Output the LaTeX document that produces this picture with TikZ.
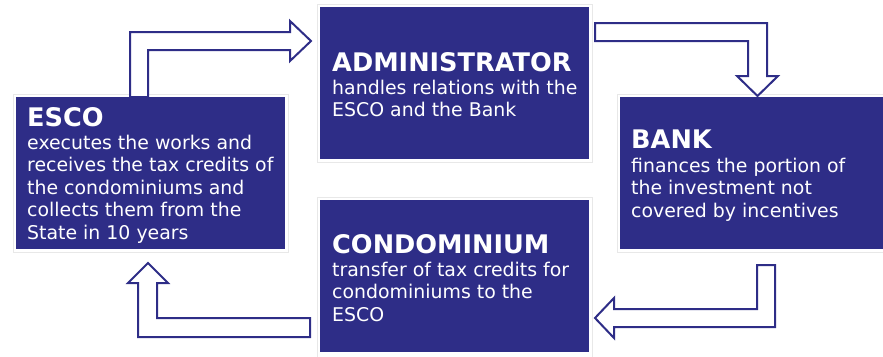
\documentclass[tikz,border=0pt]{standalone}
\usepackage{fontspec}
\setmainfont{DejaVu Sans}
\definecolor{boxblue}{RGB}{46,45,135}
\tikzset{
  x=1pt, y=-1pt,
  shadowbox/.style={fill=black, fill opacity=0.15, draw=none},
  borderbox/.style={fill=white, draw=black!9, line width=0.6pt},
  bluebox/.style={fill=boxblue, draw=none},
  titletext/.style={anchor=base west, inner sep=0pt, text=white, font=\fontsize{25.6}{28}\selectfont\bfseries},
  bodytext/.style={anchor=base west, inner sep=0pt, text=white, align=left, font=\fontsize{18.9}{22.6}\selectfont},
  flowarrow/.style={fill=white, draw=boxblue, line width=2pt, line join=miter}
}
\newcommand{\bodylines}[1]{\begin{tabular}[t]{@{}l@{}}#1\end{tabular}}
\begin{document}
\begin{tikzpicture}
\useasboundingbox (0,0) rectangle (883,356);
\clip (0,0) rectangle (883,356);
% shadows
\fill[shadowbox] (15,100) rectangle (289,253);
\fill[shadowbox] (319,10) rectangle (593,163);
\fill[shadowbox] (619,100) rectangle (890,253);
\fill[shadowbox] (319,203) rectangle (593,358);
% white borders
\draw[borderbox] (13,94) rectangle (288,252);
\draw[borderbox] (317,4) rectangle (592,162);
\draw[borderbox] (617,94) rectangle (890,252);
\draw[borderbox] (317,197) rectangle (592,358);
% boxes
\node[bluebox, anchor=north west, minimum width=269pt, minimum height=152pt, inner sep=0pt] (esco) at (16,97) {};
\node[bluebox, anchor=north west, minimum width=269pt, minimum height=152pt, inner sep=0pt] (admin) at (320,7) {};
\node[bluebox, anchor=north west, minimum width=270pt, minimum height=152pt, inner sep=0pt] (bank) at (620,97) {};
\node[bluebox, anchor=north west, minimum width=269pt, minimum height=152pt, inner sep=0pt] (condo) at (320,200) {};
% texts
\node[titletext] (escot) at (27,126) {ESCO};
\node[bodytext] (escob) at (27,149) {\bodylines{executes the works and\\receives the tax credits of\\the condominiums and\\collects them from the\\State in 10 years}};
\node[titletext] (admint) at (332,71) {ADMINISTRATOR};
\node[bodytext] (adminb) at (332,94) {\bodylines{handles relations with the\\ESCO and the Bank}};
\node[titletext] (bankt) at (631,148) {BANK};
\node[bodytext] (bankb) at (631,172) {\bodylines{finances the portion of\\the investment not\\covered by incentives}};
\node[titletext] (condot) at (332,253) {CONDOMINIUM};
\node[bodytext] (condob) at (332,276) {\bodylines{transfer of tax credits for\\condominiums to the\\ESCO}};
% arrows
\draw[flowarrow] (130,97) -- (130,32) -- (290,32) -- (290,21) -- (311,41) -- (290,61) -- (290,50) -- (148,50) -- (148,97) -- cycle;
\draw[flowarrow] (595,23) -- (767,23) -- (767,76) -- (778,76) -- (757.5,96) -- (737,76) -- (748,76) -- (748,41) -- (595,41) -- cycle;
\draw[flowarrow] (757,265) -- (775,265) -- (775,327) -- (614,327) -- (614,338) -- (595,318) -- (614,298) -- (614,309) -- (757,309) -- cycle;
\draw[flowarrow] (310,318) -- (310,337) -- (138,337) -- (138,283) -- (128,283) -- (148,263) -- (168,283) -- (157,283) -- (157,318) -- cycle;
\end{tikzpicture}
\end{document}
